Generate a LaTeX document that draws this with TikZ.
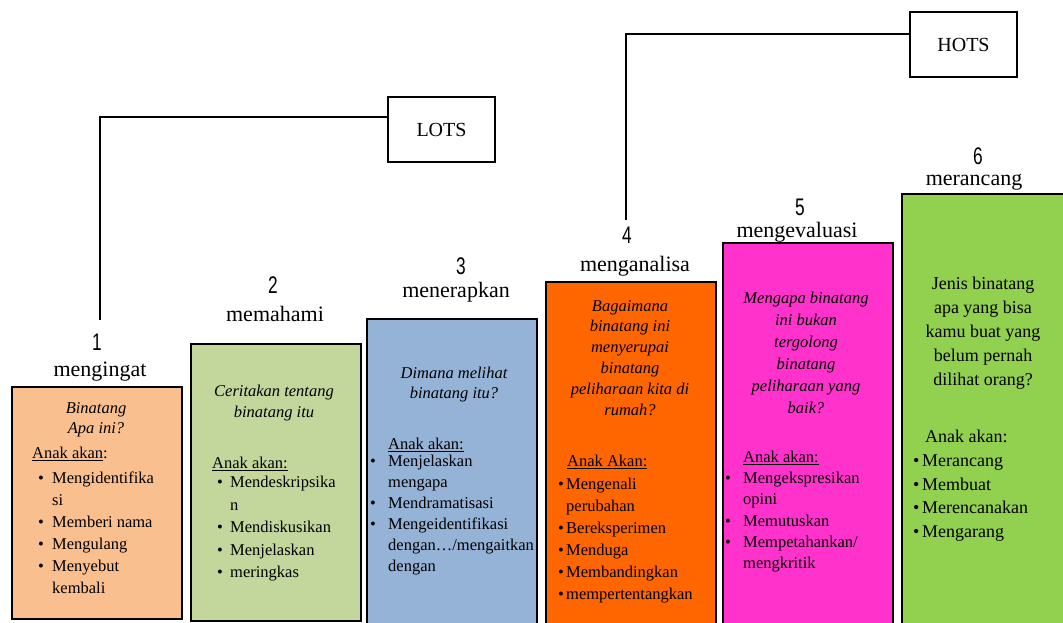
\documentclass[tikz,border=0pt]{standalone}
\usepackage{fontspec}
\setmainfont{Liberation Serif}
\newfontfamily\numfont[FakeStretch=0.72]{Liberation Sans}
\usetikzlibrary{positioning}

\definecolor{peach}{HTML}{F9BF8F}
\definecolor{sage}{HTML}{C3D69B}
\definecolor{steel}{HTML}{95B3D7}
\definecolor{tangerine}{HTML}{FF6600}
\definecolor{pinkish}{HTML}{FF33CC}
\definecolor{leaf}{HTML}{92D050}

\newcommand{\itm}[2][14pt]{\makebox[#1][l]{\textbullet}#2}
\newcommand{\cnt}[2][14pt]{\hspace*{#1}#2}

\tikzset{
    level/.style={draw, line width=1.6pt, anchor=north west, inner sep=0pt},
    tag/.style={draw, line width=1.4pt, minimum width=107pt, minimum height=65pt,
        font=\fontsize{20}{24}\selectfont},
    link/.style={line width=1.6pt},
    num/.style={anchor=base, inner sep=0.5pt, font=\numfont\fontsize{24}{28}\selectfont},
    title/.style={anchor=base, inner sep=0.5pt, font=\fontsize{22}{26}\selectfont},
    ask/.style={anchor=north, align=center, inner sep=0pt, font=\itshape\fontsize{16.5}{21}\selectfont},
    head/.style={anchor=north west, inner sep=0pt, font=\fontsize{16.5}{21}\selectfont},
    lst/.style={anchor=north west, align=left, inner sep=0pt, font=\fontsize{16.5}{22}\selectfont}
}

\begin{document}
\begin{tikzpicture}[x=1pt, y=-1pt]
\useasboundingbox (0,0) rectangle (1063,622);

% Level boxes
\node[level, fill=peach, minimum width=170pt, minimum height=232pt] (box1) at (11,386) {};
\node[level, fill=sage, minimum width=170pt, minimum height=277pt] (box2) at (190,343) {};
\node[level, fill=steel, minimum width=170pt, minimum height=310pt] (box3) at (366,318) {};
\node[level, fill=tangerine, minimum width=170pt, minimum height=350pt] (box4) at (545,281) {};
\node[level, fill=pinkish, minimum width=170pt, minimum height=390pt] (box5) at (722,242) {};
\node[level, fill=leaf, minimum width=175pt, minimum height=440pt] (box6) at (901,193) {};

% Level numbers and names
\node[num] (n1) at (97,350) {1};
\node[title] (t1) at (100,376) {mengingat};
\node[num] (n2) at (273,293) {2};
\node[title] (t2) at (275,321) {memahami};
\node[num] (n3) at (461,274) {3};
\node[title] (t3) at (456,297) {menerapkan};
\node[num] (n4) at (627,243) {4};
\node[title] (t4) at (635,271) {menganalisa};
\node[num] (n5) at (800,215) {5};
\node[title] (t5) at (797,237) {mengevaluasi};
\node[num] (n6) at (978,164) {6};
\node[title] (t6) at (974,185) {merancang};

% LOTS and HOTS brackets
\node[tag] (lots) at (441.5,129.5) {LOTS};
\node[tag] (hots) at (963.5,44.5) {HOTS};
\coordinate (lotsfoot) at (100,320);
\coordinate (lotsknee) at (100,117);
\draw[link] (lotsfoot) -- (lotsknee) -- (lotsknee -| lots.west);
\coordinate (hotsfoot) at (626,220);
\coordinate (hotsknee) at (626,34);
\draw[link] (hotsfoot) -- (hotsknee) -- (hotsknee -| hots.west);

% Box 1
\node[ask, font=\itshape\fontsize{16.5}{20}\selectfont] (ask1) at (96,402) {Binatang\\Apa ini?};
\node[head] (head1) at (32,447) {\underline{Anak akan}:};
\node[lst] (lst1) at (38,472) {\itm{Mengidentifika}\\\cnt{si}\\\itm{Memberi nama}\\\itm{Mengulang}\\\itm{Menyebut}\\\cnt{kembali}};

% Box 2
\node[ask, font=\itshape\fontsize{16.5}{20.5}\selectfont] (ask2) at (274,385) {Ceritakan tentang\\binatang itu};
\node[head] (head2) at (212,457) {\underline{Anak akan:}};
\node[lst, font=\fontsize{16.5}{22.5}\selectfont] (lst2) at (217,476)
    {\itm[13pt]{Mendeskripsika}\\\cnt[13pt]{n}\\\itm[13pt]{Mendiskusikan}\\\itm[13pt]{Menjelaskan}\\\itm[13pt]{meringkas}};

% Box 3
\node[ask, font=\itshape\fontsize{16.5}{20}\selectfont] (ask3) at (454,367) {Dimana melihat\\binatang itu?};
\node[head] (head3) at (388,438) {\underline{Anak akan:}};
\node[lst, font=\fontsize{16.5}{21}\selectfont] (lst3) at (370,455)
    {\itm[18pt]{Menjelaskan}\\\cnt[18pt]{mengapa}\\\itm[18pt]{Mendramatisasi}\\\itm[18pt]{Mengeidentifikasi}\\\cnt[18pt]{dengan…/mengaitkan}\\\cnt[18pt]{dengan}};

% Box 4
\node[ask, font=\itshape\fontsize{16.5}{20.8}\selectfont] (ask4) at (630,300)
    {Bagaimana\\binatang ini\\menyerupai\\binatang\\peliharaan kita di\\rumah?};
\node[head] (head4) at (567,455) {\underline{Anak Akan:}};
\node[lst] (lst4) at (558,478)
    {\itm[8pt]{Mengenali}\\\cnt[8pt]{perubahan}\\\itm[8pt]{Bereksperimen}\\\itm[8pt]{Menduga}\\\itm[8pt]{Membandingkan}\\\itm[8pt]{mempertentangkan}};

% Box 5
\node[ask, font=\itshape\fontsize{16.5}{22}\selectfont] (ask5) at (806,292)
    {Mengapa binatang\\ini bukan\\tergolong\\binatang\\peliharaan yang\\baik?};
\node[head] (head5) at (743,451) {\underline{Anak akan:}};
\node[lst, font=\fontsize{16.5}{21.3}\selectfont] (lst5) at (725,472)
    {\itm[18pt]{Mengekspresikan}\\\cnt[18pt]{opini}\\\itm[18pt]{Memutuskan}\\\itm[18pt]{Mempetahankan/}\\\cnt[18pt]{mengkritik}};

% Box 6
\node[ask, font=\fontsize{18}{24}\selectfont] (ask6) at (983,277)
    {Jenis binatang\\apa yang bisa\\kamu buat yang\\belum pernah\\dilihat orang?};
\node[head, font=\fontsize{18}{24}\selectfont] (head6) at (925,430) {Anak akan:};
\node[lst, font=\fontsize{18}{23.5}\selectfont] (lst6) at (913,455)
    {\itm[9pt]{Merancang}\\\itm[9pt]{Membuat}\\\itm[9pt]{Merencanakan}\\\itm[9pt]{Mengarang}};

\end{tikzpicture}
\end{document}
